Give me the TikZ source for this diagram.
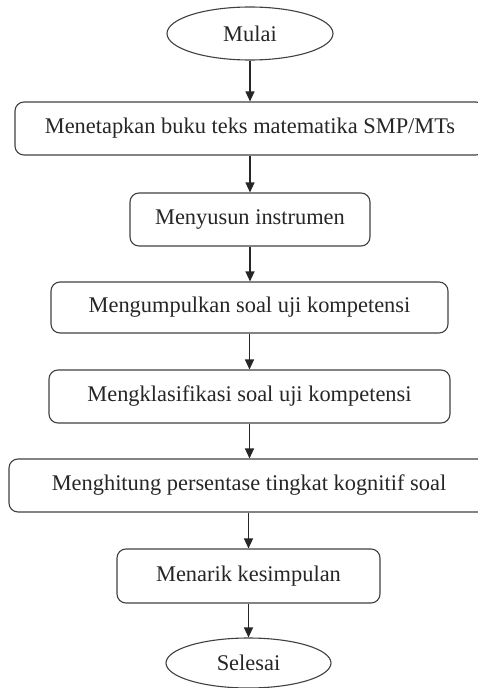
\documentclass[tikz,border=0pt]{standalone}
\usepackage{fontspec}
\setmainfont{Liberation Serif}
\usetikzlibrary{arrows.meta,shapes.geometric}
\begin{document}
\begin{tikzpicture}[x=1pt,y=-1pt,
  every node/.style={font=\fontsize{22.4}{26}\selectfont, text=black!85, inner sep=0pt},
  proc/.style={draw=black!75, line width=1.1pt, rounded corners=9pt, rectangle},
  term/.style={draw=black!75, line width=1.1pt, ellipse},
  flow/.style={draw=black!85, line width=1.2pt, -{Triangle[width=9pt,length=10pt]}}]
\useasboundingbox (0,0) rectangle (478,688);
\node[term, minimum width=166pt, minimum height=53pt] (mulai) at (250,33.5) {Mulai};
\node[proc, minimum width=470pt, minimum height=53pt] (b1) at (250,128.5) {Menetapkan buku teks matematika SMP/MTs};
\node[proc, minimum width=240pt, minimum height=53pt] (b2) at (250,219.5) {Menyusun instrumen};
\node[proc, minimum width=397pt, minimum height=51pt] (b3) at (249.5,307.5) {Mengumpulkan soal uji kompetensi};
\node[proc, minimum width=401pt, minimum height=53pt] (b4) at (249.5,396.5) {Mengklasifikasi soal uji kompetensi};
\node[proc, minimum width=480pt, minimum height=53pt] (b5) at (249,485.5) {Menghitung persentase tingkat kognitif soal};
\node[proc, minimum width=263pt, minimum height=54pt] (b6) at (248.5,576) {Menarik kesimpulan};
\node[term, minimum width=165pt, minimum height=50pt] (selesai) at (248.5,663) {Selesai};
\draw[flow] (mulai.south) -- (mulai.south |- b1.north);
\draw[flow] (b1.south -| b2.north) -- (b2.north);
\draw[flow] (b2.south) -- (b2.south |- b3.north);
\draw[flow] (b3.south) -- (b3.south |- b4.north);
\draw[flow] (b4.south) -- (b4.south |- b5.north);
\draw[flow] (b5.south -| b6.north) -- (b6.north);
\draw[flow] (b6.south) -- (b6.south |- selesai.north);
\end{tikzpicture}
\end{document}
